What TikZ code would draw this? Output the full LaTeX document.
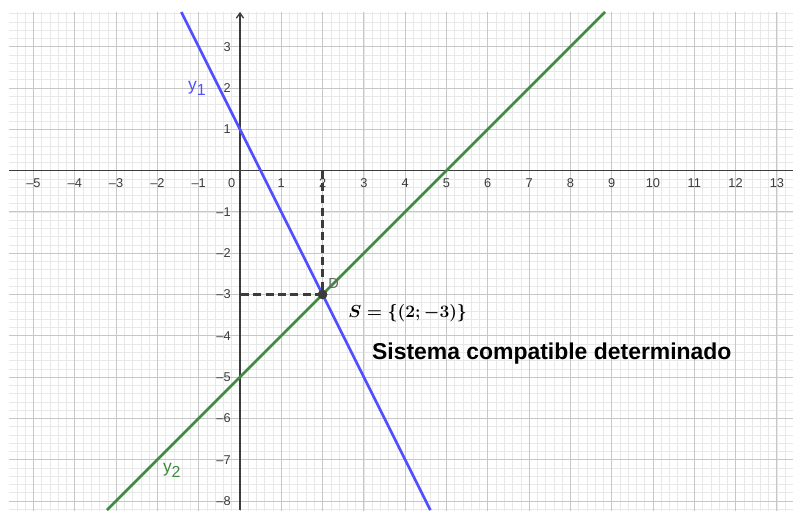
\documentclass[tikz,border=0pt]{standalone}
\usepackage{fontspec}
\setmainfont{Liberation Sans}
\usetikzlibrary{arrows.meta}
\definecolor{rectauno}{RGB}{80,80,255}
\definecolor{rectados}{RGB}{60,140,62}
\definecolor{ejes}{RGB}{60,60,60}
\newcommand{\conjsol}{$S=\lbrace(2;-3)\rbrace$}
\tikzset{
    etiq/.style={ejes,font=\fontsize{8.8}{10}\selectfont},
    punto/.style={circle,fill=ejes,inner sep=0pt,minimum size=6.5pt},
}
\begin{document}
\boldmath
\begin{tikzpicture}[>={Straight Barb[length=3.5pt,width=5pt]}]
    \useasboundingbox (-5.81,-8.22) rectangle (13.39,4.13);
    \begin{scope}
        \clip (-5.59,-8.22) rectangle (13.39,3.84);
        \draw[black!9,line width=0.4pt,step=0.2](-5.6,-8.4) grid (13.4,3.84);
        \draw[black!22,line width=0.6pt,step=1](-5.6,-8.4) grid (13.4,3.84);
    \end{scope}
    \draw[ejes,line width=0.9pt](-5.59,0)--(13.39,0);
    \draw[ejes,line width=0.9pt,->](0,-8.22)--(0,3.84);
    % etiquetas de los ejes
    \node[etiq] (cero) at (-0.2,-0.3) {0};
    \foreach \x in {1,...,13}
    {
        \node[etiq] (ex\x) at (\x,-0.3) {\x};
    }
    \foreach \x in {1,...,5}
    {
        \node[etiq] (exm\x) at (-\x,-0.3) {–\x};
    }
    \foreach \y in {1,...,3}
    {
        \node[etiq,anchor=east] (ey\y) at (-0.1,\y) {\y};
    }
    \foreach \y in {1,...,8}
    {
        \node[etiq,anchor=east] (eym\y) at (-0.1,-\y) {–\y};
    }
    % rectas
    \draw[rectauno,line width=1.8pt](-1.42,3.84)--(4.61,-8.22);
    \draw[rectados,line width=1.8pt](-3.22,-8.22)--(8.84,3.84);
    \node[rectauno,font=\fontsize{12}{14}\selectfont] (yuno) at (-1.04,2.0) {y\raisebox{-0.55ex}{\fontsize{11}{12}\selectfont 1}};
    \node[rectados,font=\fontsize{12}{14}\selectfont] (ydos) at (-1.65,-7.25) {y\raisebox{-0.55ex}{\fontsize{11}{12}\selectfont 2}};
    % solucion
    \coordinate (Dx) at (2,0);
    \coordinate (Dy) at (0,-3);
    \node[punto] (D) at (2,-3) {};
    \draw[ejes,line width=1.6pt,dash pattern=on 5.5pt off 3pt](Dx)--(D.center)--(Dy);
    \node[punto] at (D) {};
    \node[black!60,font=\fontsize{10}{12}\selectfont] (Dlab) at (2.27,-2.74) {D};
    \node[anchor=west,font=\fontsize{13.2}{15}\selectfont] (conj) at (2.5,-3.44) {\conjsol};
    \node[font=\fontsize{15.8}{18}\selectfont\bfseries] (tipo) at (7.55,-4.42) {Sistema compatible determinado};
\end{tikzpicture}
\end{document}
